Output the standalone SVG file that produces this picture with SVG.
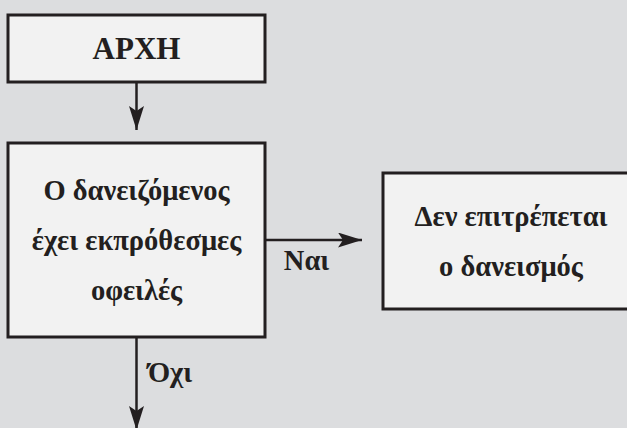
<svg xmlns="http://www.w3.org/2000/svg" width="627" height="428" viewBox="0 0 627 428">
<style>
.box{fill:#f2f2f2;stroke:#231f20;stroke-width:3}
.t{font-family:"Liberation Serif","DejaVu Serif",serif;font-weight:bold;fill:#231f20;text-anchor:middle}
.m{font-size:28.5px}
.edge{stroke:#231f20;stroke-width:2.5;fill:none}
</style>
<defs>
<marker id="ah" viewBox="0 0 24 15" refX="24" refY="7.5" markerWidth="24" markerHeight="15" markerUnits="userSpaceOnUse" orient="auto">
<path d="M0,0 L24,7.5 L0,15 L5,7.5 Z" fill="#231f20"/>
</marker>
</defs>
<rect width="627" height="428" fill="#dcdddf"/>
<g id="connectors">
<line class="edge" x1="136.5" y1="82" x2="136.5" y2="130" marker-end="url(#ah)"/>
<line class="edge" x1="265" y1="240" x2="362" y2="240" marker-end="url(#ah)"/>
<line class="edge" x1="136.5" y1="337" x2="136.5" y2="430" marker-end="url(#ah)"/>
<text class="t m" x="306.5" y="270">Ναι</text>
<text class="t m" x="170" y="382">Όχι</text>
</g>
<g id="start">
<rect class="box" x="8" y="15" width="257" height="67"/>
<text class="t" x="136.5" y="59" font-size="31">ΑΡΧΗ</text>
</g>
<g id="decision">
<rect class="box" x="8" y="143" width="257" height="194"/>
<text class="t m"><tspan x="136.5" y="200">Ο δανειζόμενος</tspan><tspan x="136.5" y="250">έχει εκπρόθεσμες</tspan><tspan x="136.5" y="300">οφειλές</tspan></text>
</g>
<g id="denied">
<rect class="box" x="383" y="173" width="260" height="136"/>
<text class="t m"><tspan x="511" y="226">Δεν επιτρέπεται</tspan><tspan x="511" y="276">ο δανεισμός</tspan></text>
</g>
</svg>
